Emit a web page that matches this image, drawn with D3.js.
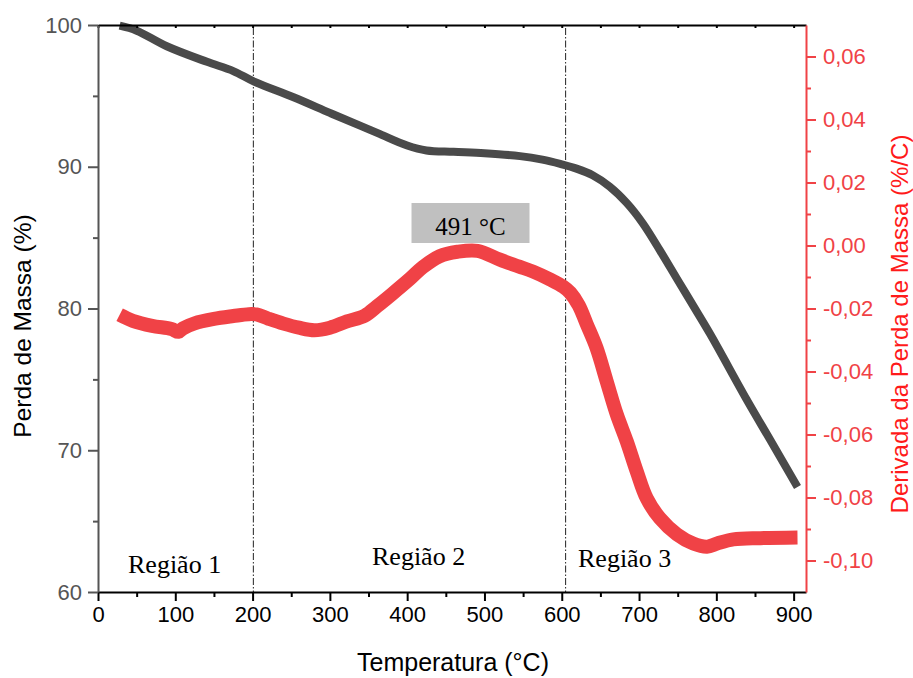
<!DOCTYPE html>
<html>
<head>
<meta charset="utf-8">
<script src="https://cdn.jsdelivr.net/npm/d3@7"></script>
<style>
	body { margin: 0; background: #fff; }
	svg { display: block; }
	.sans { font-family: "Liberation Sans", Arial, sans-serif; }
	.serif { font-family: "Liberation Serif", "Times New Roman", serif; }
</style>
</head>
<body>
<svg id="chart" width="913" height="678"></svg>
<script>
// TG curve (temperature in C, mass in %)
var tg_temp = [28, 50, 89, 141, 175, 202, 253, 300, 339, 365, 400, 425, 460, 500, 546, 575, 598, 620, 640, 662, 684, 705, 727, 749, 770, 792, 839, 870, 905];
var tg_mass = [99.95, 99.6, 98.5, 97.4, 96.75, 96.0, 94.9, 93.8, 92.9, 92.3, 91.5, 91.15, 91.05, 90.95, 90.75, 90.5, 90.2, 89.85, 89.4, 88.6, 87.45, 86.0, 84.1, 82.1, 80.2, 78.2, 73.6, 70.7, 67.4];

// DTG curve (temperature in C, derivative in %/C)
var dtg_temp = [28, 45, 70, 95, 104, 110, 125, 150, 175, 195, 205, 220, 240, 260, 280, 300, 322, 345, 361, 380, 404, 420, 442, 465, 491, 520, 545, 563, 585, 602, 611, 622, 632, 645, 658, 671, 684, 697, 710, 727, 749, 770, 788, 801, 822, 857, 905];
var dtg_value = [-0.0220, -0.0239, -0.0255, -0.0265, -0.0274, -0.0263, -0.0247, -0.0233, -0.0224, -0.0218, -0.0219, -0.0232, -0.0248, -0.0261, -0.0269, -0.0261, -0.0241, -0.0223, -0.0193, -0.0155, -0.0105, -0.0069, -0.0034, -0.0020, -0.0017, -0.0045, -0.0067, -0.0083, -0.0108, -0.0131, -0.0150, -0.0190, -0.0248, -0.0325, -0.0430, -0.0535, -0.0621, -0.0717, -0.0803, -0.0866, -0.0917, -0.0946, -0.0956, -0.0946, -0.0933, -0.0929, -0.0927];

// ticks, region borders and labels
var x_ticks = [0, 100, 200, 300, 400, 500, 600, 700, 800, 900];
var y_ticks = [60, 70, 80, 90, 100];
var dtg_ticks = [-0.10, -0.08, -0.06, -0.04, -0.02, 0.00, 0.02, 0.04, 0.06];
var region_bounds = [201, 605];
var region_names = ['Região 1', 'Região 2', 'Região 3'];
var region_pos = [[128, 573], [372, 565], [578, 567]];
var peak_temp = 491;

var RED = '#f04246';
var GRAY = '#555';

var svg = d3.select('#chart');
var box = {'l': 98, 'r': 806, 't': 25, 'b': 592};

var x = d3.scaleLinear().domain([0, 916]).range([box.l, box.r]);
var y = d3.scaleLinear().domain([60, 100]).range([box.b, box.t]);
var y2 = d3.scaleLinear().domain([-0.11, 0.07]).range([box.b, box.t]);

var comma = function (d) { return d3.format('.2f')(d).replace('.', ',').replace('\u2212', '-'); };

// region borders (dash-dot)
svg.selectAll('.border').data(region_bounds).enter().append('line')
	.attr('class', 'border')
	.attr('x1', function (d) { return x(d); })
	.attr('x2', function (d) { return x(d); })
	.attr('y1', box.t + 3).attr('y2', box.b)
	.attr('stroke', '#222').attr('stroke-width', 1)
	.attr('stroke-dasharray', '7,2,1.5,2');

// curves
var tg_line = d3.line()
	.x(function (d, i) { return x(tg_temp[i]); })
	.y(function (d) { return y(d); })
	.curve(d3.curveCatmullRom.alpha(0.5));

var dtg_line = d3.line()
	.x(function (d, i) { return x(dtg_temp[i]); })
	.y(function (d) { return y2(d); })
	.curve(d3.curveCatmullRom.alpha(0.5));

svg.append('path').datum(tg_mass)
	.attr('d', tg_line)
	.attr('fill', 'none').attr('stroke', '#4a4a4a').attr('stroke-width', 8);

svg.append('path').datum(dtg_value)
	.attr('d', dtg_line)
	.attr('fill', 'none').attr('stroke', RED).attr('stroke-width', 14);

// axes
var gx = svg.append('g').attr('class', 'sans').attr('transform', 'translate(0,' + box.b + ')')
	.call(d3.axisBottom(x).tickValues(x_ticks).tickSize(9).tickPadding(5).tickSizeOuter(0));
gx.select('.domain').attr('stroke', '#000').attr('stroke-width', 2);
gx.selectAll('.tick line').attr('stroke', '#000').attr('stroke-width', 2);
gx.selectAll('.tick text').attr('font-size', 22).attr('fill', '#000');

svg.append('g').attr('transform', 'translate(0,' + box.b + ')')
	.call(d3.axisBottom(x).tickValues(d3.range(50, 916, 100)).tickSize(5).tickFormat(''))
	.call(function (g) { g.select('.domain').remove(); g.selectAll('line').attr('stroke', '#000').attr('stroke-width', 2); });

var gt = svg.append('g').attr('transform', 'translate(0,' + box.t + ')')
	.call(d3.axisBottom(x).tickValues(d3.range(0, 916, 50)).tickSize(3).tickSizeOuter(0).tickFormat(''));
gt.select('.domain').attr('stroke', '#000').attr('stroke-width', 2);
gt.selectAll('line').attr('stroke', '#000').attr('stroke-width', 2);

var gy = svg.append('g').attr('class', 'sans').attr('transform', 'translate(' + box.l + ',0)')
	.call(d3.axisLeft(y).tickValues(y_ticks).tickSize(10).tickPadding(6).tickSizeOuter(0));
gy.select('.domain').attr('stroke', GRAY).attr('stroke-width', 2);
gy.selectAll('.tick line').attr('stroke', GRAY).attr('stroke-width', 2);
gy.selectAll('.tick text').attr('font-size', 22).attr('fill', GRAY);

svg.append('g').attr('transform', 'translate(' + box.l + ',0)')
	.call(d3.axisLeft(y).tickValues([65, 75, 85, 95]).tickSize(5).tickFormat(''))
	.call(function (g) { g.select('.domain').remove(); g.selectAll('line').attr('stroke', GRAY).attr('stroke-width', 2); });

var gr = svg.append('g').attr('class', 'sans').attr('transform', 'translate(' + box.r + ',0)')
	.call(d3.axisRight(y2).tickValues(dtg_ticks).tickSize(10).tickPadding(7).tickSizeOuter(0).tickFormat(comma));
gr.select('.domain').attr('stroke', RED).attr('stroke-width', 2);
gr.selectAll('.tick line').attr('stroke', RED).attr('stroke-width', 2);
gr.selectAll('.tick text').attr('font-size', 22).attr('fill', RED);

svg.append('g').attr('transform', 'translate(' + box.r + ',0)')
	.call(d3.axisRight(y2).tickValues([-0.09, -0.07, -0.05, -0.03, -0.01, 0.01, 0.03, 0.05]).tickSize(5).tickFormat(''))
	.call(function (g) { g.select('.domain').remove(); g.selectAll('line').attr('stroke', RED).attr('stroke-width', 2); });

// axis titles
svg.append('text').attr('class', 'sans')
	.attr('x', 453).attr('y', 671)
	.attr('text-anchor', 'middle').attr('font-size', 25)
	.text('Temperatura (°C)');

svg.append('text').attr('class', 'sans')
	.attr('transform', 'translate(31,326) rotate(-90)')
	.attr('text-anchor', 'middle').attr('font-size', 24.5)
	.text('Perda de Massa (%)');

svg.append('text').attr('class', 'sans')
	.attr('transform', 'translate(908,324) rotate(-90)')
	.attr('text-anchor', 'middle').attr('font-size', 24)
	.attr('fill', '#ff1a1a')
	.text('Derivada da Perda de Massa (%/C)');

// region labels
svg.selectAll('.region').data(region_names).enter().append('text')
	.attr('class', 'region serif')
	.attr('x', function (d, i) { return region_pos[i][0]; })
	.attr('y', function (d, i) { return region_pos[i][1]; })
	.attr('font-size', 26)
	.text(function (d) { return d; });

// peak annotation
var peak_x = x(peak_temp);
svg.append('rect')
	.attr('x', peak_x - 66).attr('y', 203)
	.attr('width', 118).attr('height', 40)
	.attr('fill', '#c0c0c0');
svg.append('text').attr('class', 'serif')
	.attr('x', peak_x - 7).attr('y', 235)
	.attr('text-anchor', 'middle').attr('font-size', 25)
	.text(peak_temp + ' °C');
</script>
</body>
</html>
